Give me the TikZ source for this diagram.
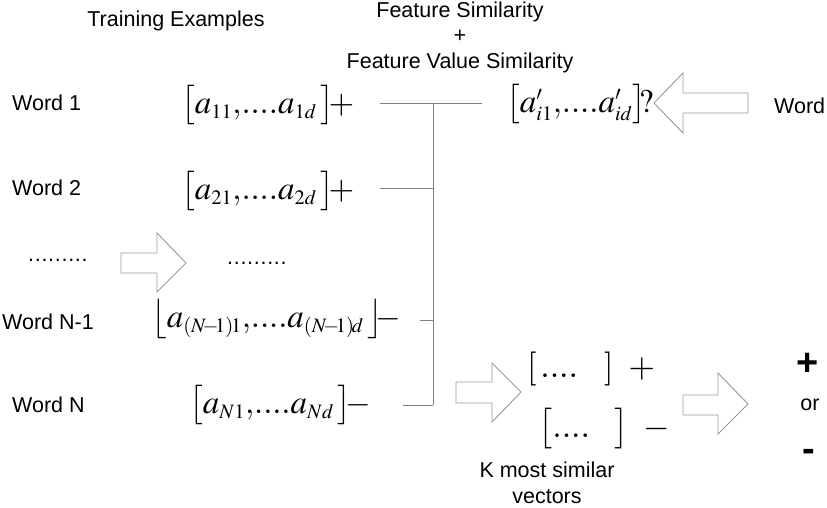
\documentclass[tikz,border=0pt]{standalone}
\usepackage{mathptmx}
\usepackage{fontspec}
\setmainfont{Liberation Sans}
\renewcommand{\defaultscriptratio}{.62}
\newcommand{\dotrow}{.\kern0.7pt.\kern0.7pt.\kern0.7pt.\kern0.7pt.\kern0.7pt.\kern0.7pt.\kern0.7pt.\kern0.7pt.}
\newcommand{\vstr}{\rule[-11pt]{0pt}{34pt}}
\newcommand{\cm}{\mathord{,}}
\newcommand{\nm}{(N\mkern-3mu-\mkern-3mu1)\mkern-2mu}
\begin{document}
\begin{tikzpicture}[x=1pt,y=-1pt,
  lbl/.style={font=\fontsize{21.5}{25.5}\selectfont, inner sep=0pt},
  vec/.style={font=\fontsize{33}{38}\selectfont, inner sep=0pt},
  smallvec/.style={font=\fontsize{34}{38}\selectfont, inner sep=0pt},
  bigsign/.style={font=\fontsize{38}{42}\selectfont\bfseries, inner sep=0pt},
  bus/.style={draw=black!50, line width=1pt},
  blockarrow/.style={draw=black!40, line width=0.9pt, fill=white, line join=miter}]
\useasboundingbox (0,0) rectangle (827,507);
% headings
\node[lbl] (train) at (176,21) {Training Examples};
\node[lbl, align=center] (fs) at (460,37) {Feature Similarity\\+\\Feature Value Similarity};
% word labels
\node[lbl, anchor=west] (w1) at (12,103) {Word 1};
\node[lbl, anchor=west] (w2) at (12,188) {Word 2};
\node[lbl, anchor=west] (wn1) at (2,322) {Word N-1};
\node[lbl, anchor=west] (wn) at (12,405) {Word N};
\node[lbl, anchor=west] (dl) at (28,260) {\dotrow};
\node[lbl, anchor=west] (dr) at (227,263) {\dotrow};
\node[lbl, anchor=west] (word) at (774,106) {Word};
% vectors
\node[vec, anchor=west] (v1) at (181,105) {${\left[\vstr a_{11}\cm....a_{1d}\mkern2mu\right]}\mkern-3mu+$};
\node[vec, anchor=west] (v2) at (181,191) {${\left[\vstr a_{21}\cm....a_{2d}\mkern2mu\right]}\mkern-3mu+$};
\node[vec, anchor=west] (vn1) at (151,319) {${\left\lfloor\vstr a_{\nm 1}\cm....a_{\nm d}\mkern2mu\right\rfloor}\mkern-4mu-$};
\node[vec, anchor=west] (vn) at (189,405) {${\left[\vstr a_{N1}\cm....a_{Nd}\,\right]}\mkern-3mu-$};
\node[vec, anchor=west] (q) at (506,104) {${\left[\vstr a'_{i1}\cm....a'_{id}\right]}\mkern-4mu?$};
% similar vectors
\node[smallvec, anchor=west] (k1) at (527,369) {$[\,....\hspace{26pt}]\;\;+$};
\node[smallvec, anchor=west] (k2) at (538,429) {${\left[\rule[-12pt]{0pt}{36pt}....\hspace{24pt}\right]}\;\;-$};
\node[lbl, align=center] (kms) at (547,483) {K most similar\\vectors};
% result
\node[bigsign] (plus) at (808,364) {+};
\node[lbl] (or) at (810,405) {or};
\node[bigsign] (minus) at (809,455) {-};
% bus lines
\coordinate (b1) at (380,103); \coordinate (e1) at (482,103);
\coordinate (b2) at (380,188); \coordinate (j2) at (433,188);
\coordinate (bn1) at (420,320); \coordinate (jn1) at (433,320);
\coordinate (bn) at (403,405); \coordinate (jn) at (433,405);
\coordinate (j1) at (433,103);
\draw[bus] (b1) -- (e1);
\draw[bus] (b2) -- (j2);
\draw[bus] (bn1) -- (jn1);
\draw[bus] (bn) -- (jn);
\draw[bus] (j1) -- (jn);
% block arrows
\draw[blockarrow] (654,103) -- (683,73) -- (683,93) -- (748,93) -- (748,113) -- (683,113) -- (683,133) -- cycle;
\draw[blockarrow] (186,263) -- (157,233) -- (157,253) -- (121,253) -- (121,273) -- (157,273) -- (157,292) -- cycle;
\draw[blockarrow] (521,392) -- (492,363) -- (492,382) -- (456,382) -- (456,403) -- (492,403) -- (492,422) -- cycle;
\draw[blockarrow] (748,404) -- (718,373) -- (718,395) -- (683,395) -- (683,415) -- (718,415) -- (718,434) -- cycle;
\end{tikzpicture}
\end{document}
